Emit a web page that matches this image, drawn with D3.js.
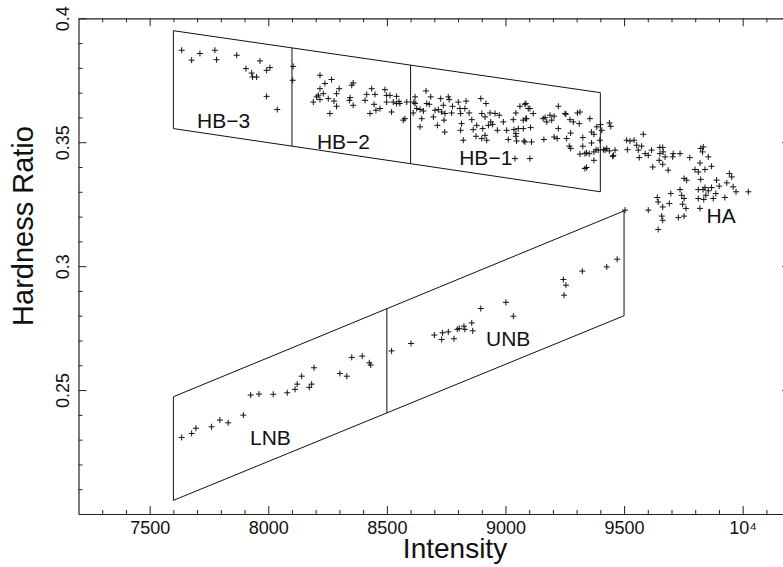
<!DOCTYPE html>
<html>
<head>
<meta charset="utf-8">
<script src="https://cdn.jsdelivr.net/npm/d3@7"></script>
<style>
  html, body { margin: 0; padding: 0; background: #fff; }
  svg { display: block; font-family: "Liberation Sans", Arial, Helvetica, sans-serif; }
</style>
</head>
<body>
<svg id="chart" width="783" height="567"></svg>
<script>
// ---------------- data ----------------
const xTickValues = [7500, 8000, 8500, 9000, 9500, 10000];
const xTickLabels = ["7500", "8000", "8500", "9000", "9500", "10\u2074"];
const yTickValues = [0.25, 0.3, 0.35, 0.4];
const yTickLabels = ["0.25", "0.3", "0.35", "0.4"];

const hb3 = [[7635,0.3871],[7677,0.3831],[7712,0.3858],[7775,0.3871],[7782,0.3833],[7867,0.3851],
  [7906,0.3797],[7930,0.3779],[7951,0.3763],[7934,0.3763],[7965,0.3828],[7993,0.3790],[8007,0.3801],
  [7993,0.3685],[8038,0.3632],[8105,0.3806],[8103,0.3750]];

const hb2 = [[8218,0.3770],[8239,0.3737],[8267,0.3753],[8218,0.3716],[8232,0.3696],[8204,0.3683],
  [8190,0.3662],[8218,0.3672],[8253,0.3676],[8277,0.3666],[8288,0.3696],[8299,0.3716],[8260,0.3616],
  [8288,0.3645],[8352,0.3730],[8358,0.3739],[8342,0.3669],[8358,0.3649],[8415,0.3693],[8408,0.3669],
  [8436,0.3716],[8450,0.3693],[8446,0.3653],[8429,0.3616],[8454,0.3629],[8471,0.3636],[8492,0.3712],
  [8499,0.3689],[8499,0.3662],[8513,0.3689],[8520,0.3622],[8527,0.3662],[8541,0.3685],[8541,0.3656],
  [8555,0.3656],[8576,0.3595],[8569,0.3589],[8584,0.3662],[8345,0.3680],[8551,0.3664],[8211,0.3690]];

const hb1 = [[8619,0.3683],[8614,0.3662],[8626,0.3636],[8619,0.3656],[8611,0.3618],[8640,0.3632],
  [8665,0.3707],[8685,0.3683],[8668,0.3656],[8679,0.3653],[8654,0.3626],[8647,0.3595],[8640,0.3562],
  [8703,0.3629],[8717,0.3632],[8727,0.3676],[8731,0.3622],[8738,0.3649],[8745,0.3616],[8759,0.3683],
  [8763,0.3672],[8777,0.3645],[8773,0.3618],[8713,0.3568],[8741,0.3589],[8744,0.3541],[8696,0.3602],
  [8801,0.3662],[8808,0.3636],[8811,0.3616],[8834,0.3666],[8829,0.3636],[8847,0.3618],[8815,0.3575],
  [8811,0.3548],[8822,0.3508],[8858,0.3591],[8864,0.3551],[8879,0.3568],[8876,0.3524],[8896,0.3676],
  [8918,0.3656],[8900,0.3616],[8914,0.3602],[8904,0.3555],[8928,0.3568],[8935,0.3618],[8938,0.3582],
  [8946,0.3572],[8914,0.3528],[8921,0.3508],[8900,0.3515],[8956,0.3616],[8966,0.3548],[8974,0.3609],
  [8991,0.3582],[9005,0.3548],[9033,0.3591],[9044,0.3618],[9061,0.3645],[9086,0.3656],[9036,0.3551],
  [9044,0.3535],[9054,0.3555],[9044,0.3524],[9012,0.3511],[9078,0.3505],[9047,0.3505],[9086,0.3595],
  [9096,0.3636],[9082,0.3653],[9103,0.3636],[9117,0.3616],[9089,0.3595],[9075,0.3589],[9082,0.3501],
  [9110,0.3501],[9075,0.3555],[9106,0.3559],[9040,0.3434],[9103,0.3434],[9159,0.3595],[9167,0.3600],
  [9174,0.3582],[9188,0.3609],[9195,0.3589],[9205,0.3605],[9223,0.3645],[9223,0.3555],[9251,0.3616],
  [9255,0.3613],[9272,0.3591],[9286,0.3582],[9303,0.3618],[9314,0.3622],[9311,0.3575],[9356,0.3595],
  [9162,0.3511],[9205,0.3521],[9218,0.3515],[9258,0.3515],[9269,0.3484],[9275,0.3475],[9275,0.3537],
  [9326,0.3519],[9326,0.3484],[9314,0.3452],[9342,0.3457],[9335,0.3454],[9353,0.3454],[9363,0.3541],
  [9373,0.3532],[9385,0.3562],[9363,0.3497],[9382,0.3470],[9398,0.3508],[9373,0.3461],[9373,0.3427],
  [9342,0.3398],[9335,0.3394],[9391,0.3468],[9401,0.3571]];

const ha = [[9420,0.3468],[9438,0.3578],[9444,0.3564],[9438,0.3465],[9462,0.3468],[9452,0.3443],
  [9406,0.3548],[9413,0.3470],[9427,0.3475],[9455,0.3447],[9511,0.3508],[9525,0.3505],[9542,0.3508],
  [9514,0.3470],[9553,0.3488],[9560,0.3468],[9564,0.3438],[9581,0.3532],[9574,0.3484],[9589,0.3454],
  [9602,0.3447],[9616,0.3468],[9621,0.3400],[9651,0.3479],[9663,0.3479],[9651,0.3454],[9665,0.3461],
  [9673,0.3441],[9648,0.3427],[9663,0.3411],[9686,0.3387],[9707,0.3454],[9736,0.3454],[9705,0.3441],
  [9777,0.3438],[9823,0.3475],[9831,0.3461],[9820,0.3416],[9834,0.3481],[9855,0.3441],[9869,0.3403],
  [9799,0.3390],[9813,0.3380],[9841,0.3390],[9753,0.3354],[9764,0.3347],[9736,0.3309],[9823,0.3350],
  [9813,0.3309],[9833,0.3309],[9841,0.3317],[9855,0.3304],[9869,0.3317],[9890,0.3347],[9901,0.3323],
  [9944,0.3374],[9954,0.3360],[9933,0.3336],[9960,0.3320],[9972,0.3300],[9925,0.3277],[9876,0.3273],
  [9887,0.3293],[9845,0.3286],[9836,0.3269],[9813,0.3273],[10024,0.3300],[9697,0.3293],[9640,0.3277],
  [9644,0.3259],[9663,0.3239],[9691,0.3253],[9743,0.3286],[9753,0.3273],[9747,0.3250],[9761,0.3233],
  [9753,0.3202],[9729,0.3196],[9820,0.3233],[9602,0.3226],[9659,0.3202],[9663,0.3185],[9644,0.3148]];

const lnb = [[7635,0.2309],[7677,0.2325],[7695,0.2346],[7761,0.2352],[7796,0.2379],[7831,0.2368],
  [7895,0.2399],[7926,0.2480],[7961,0.2484],[8021,0.2483],[8080,0.2489],[8113,0.2503],[8122,0.2524],
  [8141,0.2556],[8173,0.2511],[8183,0.2524],[8193,0.2590],[8302,0.2567],[8331,0.2556],[8352,0.2632],
  [8396,0.2637],[8426,0.2610],[8432,0.2601]];

const unb = [[8520,0.2658],[8602,0.2688],[8700,0.2722],[8731,0.2704],[8735,0.2731],[8759,0.2735],
  [8783,0.2707],[8797,0.2745],[8805,0.2749],[8825,0.2758],[8829,0.2745],[8858,0.2771],[8862,0.2739],
  [8896,0.2829],[9002,0.2854],[9033,0.2798],[9244,0.2946],[9255,0.2923],[9247,0.2883],[9324,0.2980],
  [9427,0.2997],[9471,0.3028],[9504,0.3226]];

// region boxes: x extent, top edge y at ends, bottom edge y at ends, internal dividers
const upperBoxX = [7600, 9400];
const upperBoxTop = [0.395, 0.370];
const upperBoxBottom = [0.3555, 0.330];
const upperDividers = [8100, 8600];

const lowerBoxX = [7600, 9500];
const lowerBoxTop = [0.2473, 0.3223];
const lowerBoxBottom = [0.2055, 0.280];
const lowerDividers = [8500];

const regionNames = ["HB\u22123", "HB\u22122", "HB\u22121", "HA", "LNB", "UNB"];
const regionLabelX = [7700, 8205, 8805, 9848, 7923, 8918];
const regionLabelY = [0.3556, 0.3474, 0.3407, 0.3175, 0.2278, 0.2679];

// ---------------- drawing ----------------
const svg = d3.select("#chart");
const x = d3.scaleLinear().domain([7200, 10200]).range([78.5, 790.1]);
const y = d3.scaleLinear().domain([0.2, 0.4]).range([514, 18.3]);

const axisColor = "#222";
const xMinor = d3.range(7300, 10200, 100).filter(v => v % 500 !== 0);
const yMinor = d3.range(0.21, 0.4, 0.01).filter(v => Math.abs(v * 100 % 5) > 0.01 && Math.abs(v * 100 % 5 - 5) > 0.01);

function styleAxis(g) {
  g.selectAll("path.domain").attr("stroke", axisColor).attr("stroke-width", 1.2);
  g.selectAll(".tick line").attr("stroke", axisColor).attr("stroke-width", 1);
}

// bottom
const gB = svg.append("g").attr("transform", `translate(0,${y(0.2)})`);
gB.call(d3.axisBottom(x).tickValues(xTickValues).tickSizeInner(-8).tickSizeOuter(0).tickPadding(7)
  .tickFormat((d, i) => xTickLabels[i]));
gB.append("g").call(d3.axisBottom(x).tickValues(xMinor).tickSizeInner(-4).tickSizeOuter(0).tickFormat(""))
  .select("path.domain").remove();
styleAxis(gB);
gB.selectAll("text").attr("font-size", 18).attr("fill", "#111").attr("font-family", "Liberation Sans, Arial, sans-serif");

// top
const gT = svg.append("g").attr("transform", `translate(0,${y(0.4)})`);
gT.call(d3.axisTop(x).tickValues(xTickValues).tickSizeInner(-8).tickSizeOuter(0).tickFormat(""));
gT.append("g").call(d3.axisTop(x).tickValues(xMinor).tickSizeInner(-4).tickSizeOuter(0).tickFormat(""))
  .select("path.domain").remove();
styleAxis(gT);

// left
const gL = svg.append("g").attr("transform", `translate(${x(7200)},0)`);
gL.call(d3.axisLeft(y).tickValues(yTickValues).tickSizeInner(-8).tickSizeOuter(0)
  .tickFormat((d, i) => yTickLabels[i]));
gL.append("g").call(d3.axisLeft(y).tickValues(yMinor).tickSizeInner(-4).tickSizeOuter(0).tickFormat(""))
  .select("path.domain").remove();
styleAxis(gL);
gL.selectAll("text")
  .attr("transform", "rotate(-90)")
  .attr("x", 0).attr("y", -10).attr("dy", 0)
  .attr("text-anchor", "middle")
  .attr("font-size", 18).attr("fill", "#111").attr("font-family", "Liberation Sans, Arial, sans-serif");

// right
const gR = svg.append("g").attr("transform", `translate(${x(10200)},0)`);
gR.call(d3.axisRight(y).tickValues(yTickValues).tickSizeInner(-8).tickSizeOuter(0).tickFormat(""));
gR.append("g").call(d3.axisRight(y).tickValues(yMinor).tickSizeInner(-4).tickSizeOuter(0).tickFormat(""))
  .select("path.domain").remove();
styleAxis(gR);

// axis titles
svg.append("text")
  .attr("transform", `translate(33,226) rotate(-90)`)
  .attr("text-anchor", "middle").attr("font-size", 29).attr("fill", "#111")
  .text("Hardness Ratio");
svg.append("text")
  .attr("x", 455).attr("y", 558)
  .attr("text-anchor", "middle").attr("font-size", 28).attr("fill", "#111")
  .text("Intensity");

// region boxes
const boxG = svg.append("g").attr("fill", "none").attr("stroke", "#111").attr("stroke-width", 1);
function drawBox(bx, top, bot, divs) {
  const line = d3.line().x(d => x(d[0])).y(d => y(d[1]));
  boxG.append("path").attr("d", line([[bx[0], top[0]], [bx[1], top[1]], [bx[1], bot[1]], [bx[0], bot[0]]]) + "Z");
  const tAt = v => top[0] + (top[1] - top[0]) * (v - bx[0]) / (bx[1] - bx[0]);
  const bAt = v => bot[0] + (bot[1] - bot[0]) * (v - bx[0]) / (bx[1] - bx[0]);
  divs.forEach(v => {
    boxG.append("line").attr("x1", x(v)).attr("x2", x(v)).attr("y1", y(tAt(v))).attr("y2", y(bAt(v)));
  });
}
drawBox(upperBoxX, upperBoxTop, upperBoxBottom, upperDividers);
drawBox(lowerBoxX, lowerBoxTop, lowerBoxBottom, lowerDividers);

// points as "+" markers
const allPts = [].concat(hb3, hb2, hb1, ha, lnb, unb);
const s = 3;
svg.append("g").selectAll("path").data(allPts).join("path")
  .attr("d", d => {
    const px = x(d[0]), py = y(d[1]);
    return `M${px - s},${py}H${px + s}M${px},${py - s}V${py + s}`;
  })
  .attr("stroke", "#111").attr("stroke-width", 1).attr("fill", "none");

// region labels
svg.append("g").selectAll("text").data(regionNames).join("text")
  .attr("x", (d, i) => x(regionLabelX[i]))
  .attr("y", (d, i) => y(regionLabelY[i]))
  .attr("font-size", 21).attr("fill", "#111")
  .text(d => d);
</script>
</body>
</html>
